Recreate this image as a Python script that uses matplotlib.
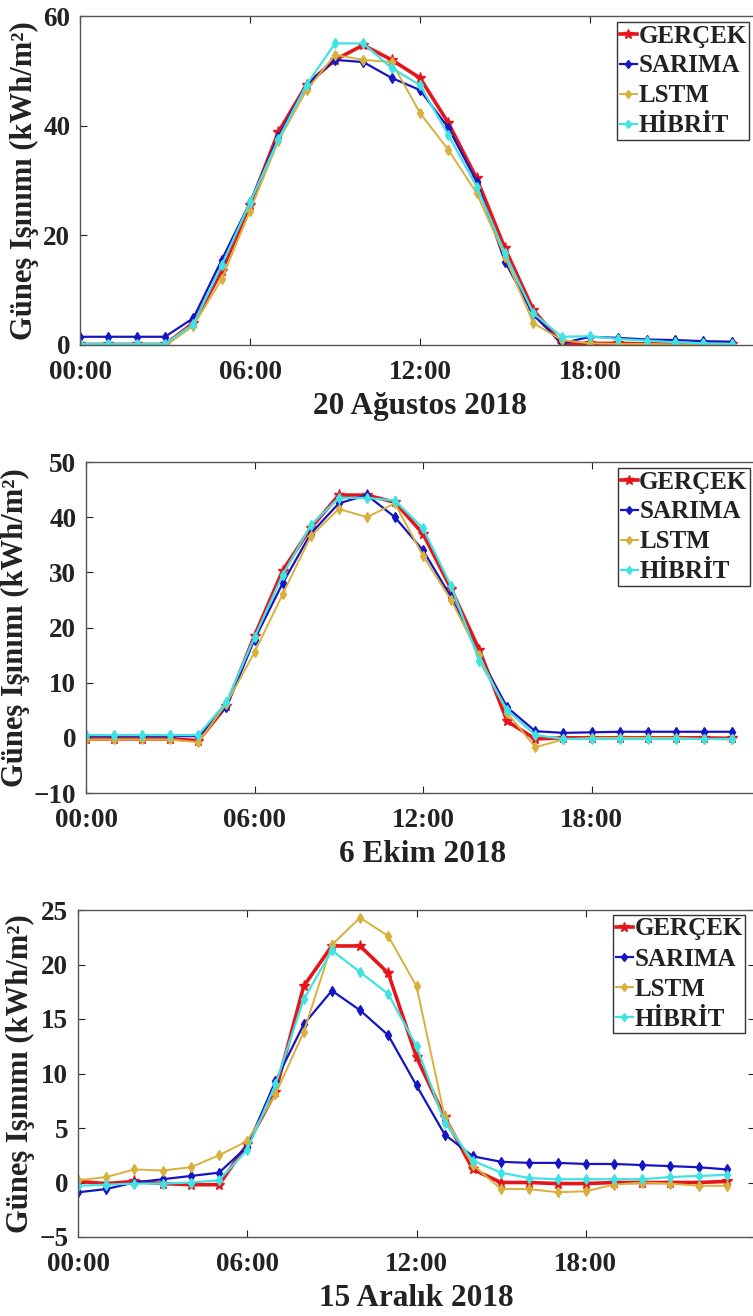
import matplotlib
matplotlib.use("Agg")
import matplotlib.pyplot as plt
from matplotlib.ticker import FixedLocator

plt.rcParams["font.family"] = ["Liberation Serif", "DejaVu Serif"]
plt.rcParams["font.weight"] = "bold"

hours = list(range(24))
xtick_pos = [0, 6, 12, 18]
xtick_labels = ["00:00", "06:00", "12:00", "18:00"]
series_names = ["GERÇEK", "SARIMA", "LSTM", "HİBRİT"]
ylabel_text = "Güneş Işınımı (kWh/m²)"

# 20 Ağustos 2018
aug_gercek = [0.1, 0.1, 0.1, 0.1, 4.0, 13.5, 25.5, 38.8, 47.5, 52.0, 54.7, 52.0,
              48.7, 40.5, 30.4, 17.6, 6.4, 0.2, 0.3, 0.3, 0.2, 0.2, 0.2, 0.1]
aug_sarima = [1.5, 1.5, 1.5, 1.5, 4.9, 15.5, 26.0, 38.0, 47.5, 52.0, 51.6, 48.7,
              46.5, 39.6, 29.8, 15.2, 5.5, 0.3, 1.5, 1.3, 1.0, 0.9, 0.7, 0.6]
aug_lstm = [-0.2, -0.2, -0.3, -0.2, 3.5, 12.0, 24.5, 37.2, 46.5, 52.9, 52.0, 51.6,
            42.3, 35.6, 27.7, 16.1, 4.0, 0.9, 0.3, 0.2, 0.2, 0.1, 0.1, 0.1]
aug_hibrit = [0.2, 0.2, 0.2, 0.2, 3.8, 14.5, 26.0, 37.5, 47.5, 55.0, 55.0, 50.5,
              47.4, 38.3, 28.9, 16.7, 5.8, 1.5, 1.6, 1.1, 0.8, 0.5, 0.3, 0.2]

# 6 Ekim 2018
oct_gercek = [-0.2, -0.2, -0.2, -0.2, -0.5, 5.8, 18.5, 30.3, 38.0, 44.0, 44.0, 42.7,
              37.0, 27.0, 16.0, 3.0, -0.2, 0.0, 0.0, 0.0, 0.0, 0.0, 0.0, -0.1]
oct_sarima = [0.3, 0.3, 0.3, 0.3, 0.3, 5.6, 17.8, 28.0, 37.0, 42.5, 44.0, 40.0,
              34.0, 25.5, 15.0, 5.5, 1.2, 0.9, 1.0, 1.1, 1.1, 1.1, 1.1, 1.1]
oct_lstm = [-0.3, -0.3, -0.3, -0.3, -0.8, 6.2, 15.5, 26.0, 36.5, 41.5, 40.0, 42.5,
            33.0, 25.0, 15.0, 4.5, -1.7, -0.3, 0.0, 0.0, 0.0, 0.0, -0.2, -0.3]
oct_hibrit = [0.5, 0.5, 0.5, 0.5, 0.5, 6.5, 18.2, 29.5, 38.5, 43.5, 43.5, 43.0,
              38.0, 27.5, 14.0, 5.0, 0.5, -0.2, -0.2, -0.2, -0.2, -0.2, -0.2, -0.2]

# 15 Aralık 2018
dec_gercek = [0.1, -0.1, 0.1, -0.1, -0.2, -0.2, 3.5, 8.3, 18.0, 21.7, 21.7, 19.2,
              11.5, 6.0, 1.2, 0.0, 0.0, -0.1, -0.1, 0.0, 0.0, 0.0, 0.0, 0.1]
dec_sarima = [-0.9, -0.6, 0.0, 0.3, 0.6, 0.9, 3.3, 9.3, 14.5, 17.6, 15.8, 13.5,
              8.9, 4.4, 2.4, 1.9, 1.8, 1.8, 1.7, 1.7, 1.6, 1.5, 1.4, 1.2]
dec_lstm = [0.2, 0.5, 1.2, 1.1, 1.4, 2.5, 3.8, 8.1, 13.8, 21.8, 24.3, 22.6,
            18.0, 6.0, 1.6, -0.6, -0.6, -0.9, -0.8, -0.2, 0.0, -0.1, -0.3, -0.3]
dec_hibrit = [-0.3, -0.2, -0.1, -0.1, 0.0, 0.2, 3.0, 9.0, 16.8, 21.3, 19.3, 17.3,
              12.5, 5.5, 2.0, 0.9, 0.4, 0.3, 0.3, 0.3, 0.3, 0.5, 0.6, 0.7]

panels = [
    dict(series=[aug_gercek, aug_sarima, aug_lstm, aug_hibrit], ylim=(0, 60),
         yticks=[0, 20, 40, 60], date="20 Ağustos 2018",
         box=(80, 760, 16, 345), legend_at=(617, 22)),
    dict(series=[oct_gercek, oct_sarima, oct_lstm, oct_hibrit], ylim=(-10, 50),
         yticks=[-10, 0, 10, 20, 30, 40, 50], date="6 Ekim 2018",
         box=(86, 760, 462, 793), legend_at=(618, 468)),
    dict(series=[dec_gercek, dec_sarima, dec_lstm, dec_hibrit], ylim=(-5, 25),
         yticks=[-5, 0, 5, 10, 15, 20, 25], date="15 Aralık 2018",
         box=(78, 755, 910, 1237), legend_at=(613, 915)),
]

colors = ["#e5161b", "#1515c4", "#d8b03c", "#3fe3e3"]
markers = ["*", "d", "d", "d"]
msizes = [8, 5, 5, 5]
lwidths = [2.6, 1.6, 1.4, 1.6]

W, H = 753, 1316
fig = plt.figure(figsize=(W / 100, H / 100), dpi=100)

for p in panels:
    l, r, t, b = p["box"]
    ax = fig.add_axes([l / W, 1 - b / H, (r - l) / W, (b - t) / H])
    handles = []
    for vals, name, c, m, ms, lw in zip(p["series"], series_names, colors,
                                         markers, msizes, lwidths):
        h, = ax.plot(hours, vals, color=c, marker=m, markersize=ms, lw=lw,
                     label=name)
        handles.append(h)
    ax.set_xlim(0, 24)
    ax.set_ylim(*p["ylim"])
    ax.xaxis.set_major_locator(FixedLocator(xtick_pos))
    ax.set_xticklabels(xtick_labels)
    ax.set_yticks(p["yticks"])
    ax.tick_params(direction="in", length=5, width=0.8, top=True, right=True,
                   labelsize=19.5, colors="#222222", labelcolor="#222222")
    ax.tick_params(axis="x", pad=11)
    ax.tick_params(axis="y", pad=7)
    for s in ax.spines.values():
        s.set_color("#555555")
        s.set_linewidth(1.0)
    ax.set_xlabel(p["date"], fontsize=22.5, fontweight="bold", color="#222222",
                  labelpad=5)
    ax.set_ylabel(ylabel_text, fontsize=22, fontweight="bold", color="#222222",
                  labelpad=3)
    lx, ly = p["legend_at"]
    leg = ax.legend(handles=handles, loc="upper left",
                    bbox_to_anchor=(lx / W, 1 - ly / H),
                    bbox_transform=fig.transFigure, fontsize=18,
                    handlelength=0.7, handletextpad=0.05, labelspacing=0.28,
                    borderpad=0.1, borderaxespad=0, fancybox=False,
                    framealpha=1, edgecolor="#333333", markerscale=0.9)
    leg.get_frame().set_linewidth(1.0)
    for txt in leg.get_texts():
        txt.set_color("#222222")

fig.savefig("out.png", dpi=100)
